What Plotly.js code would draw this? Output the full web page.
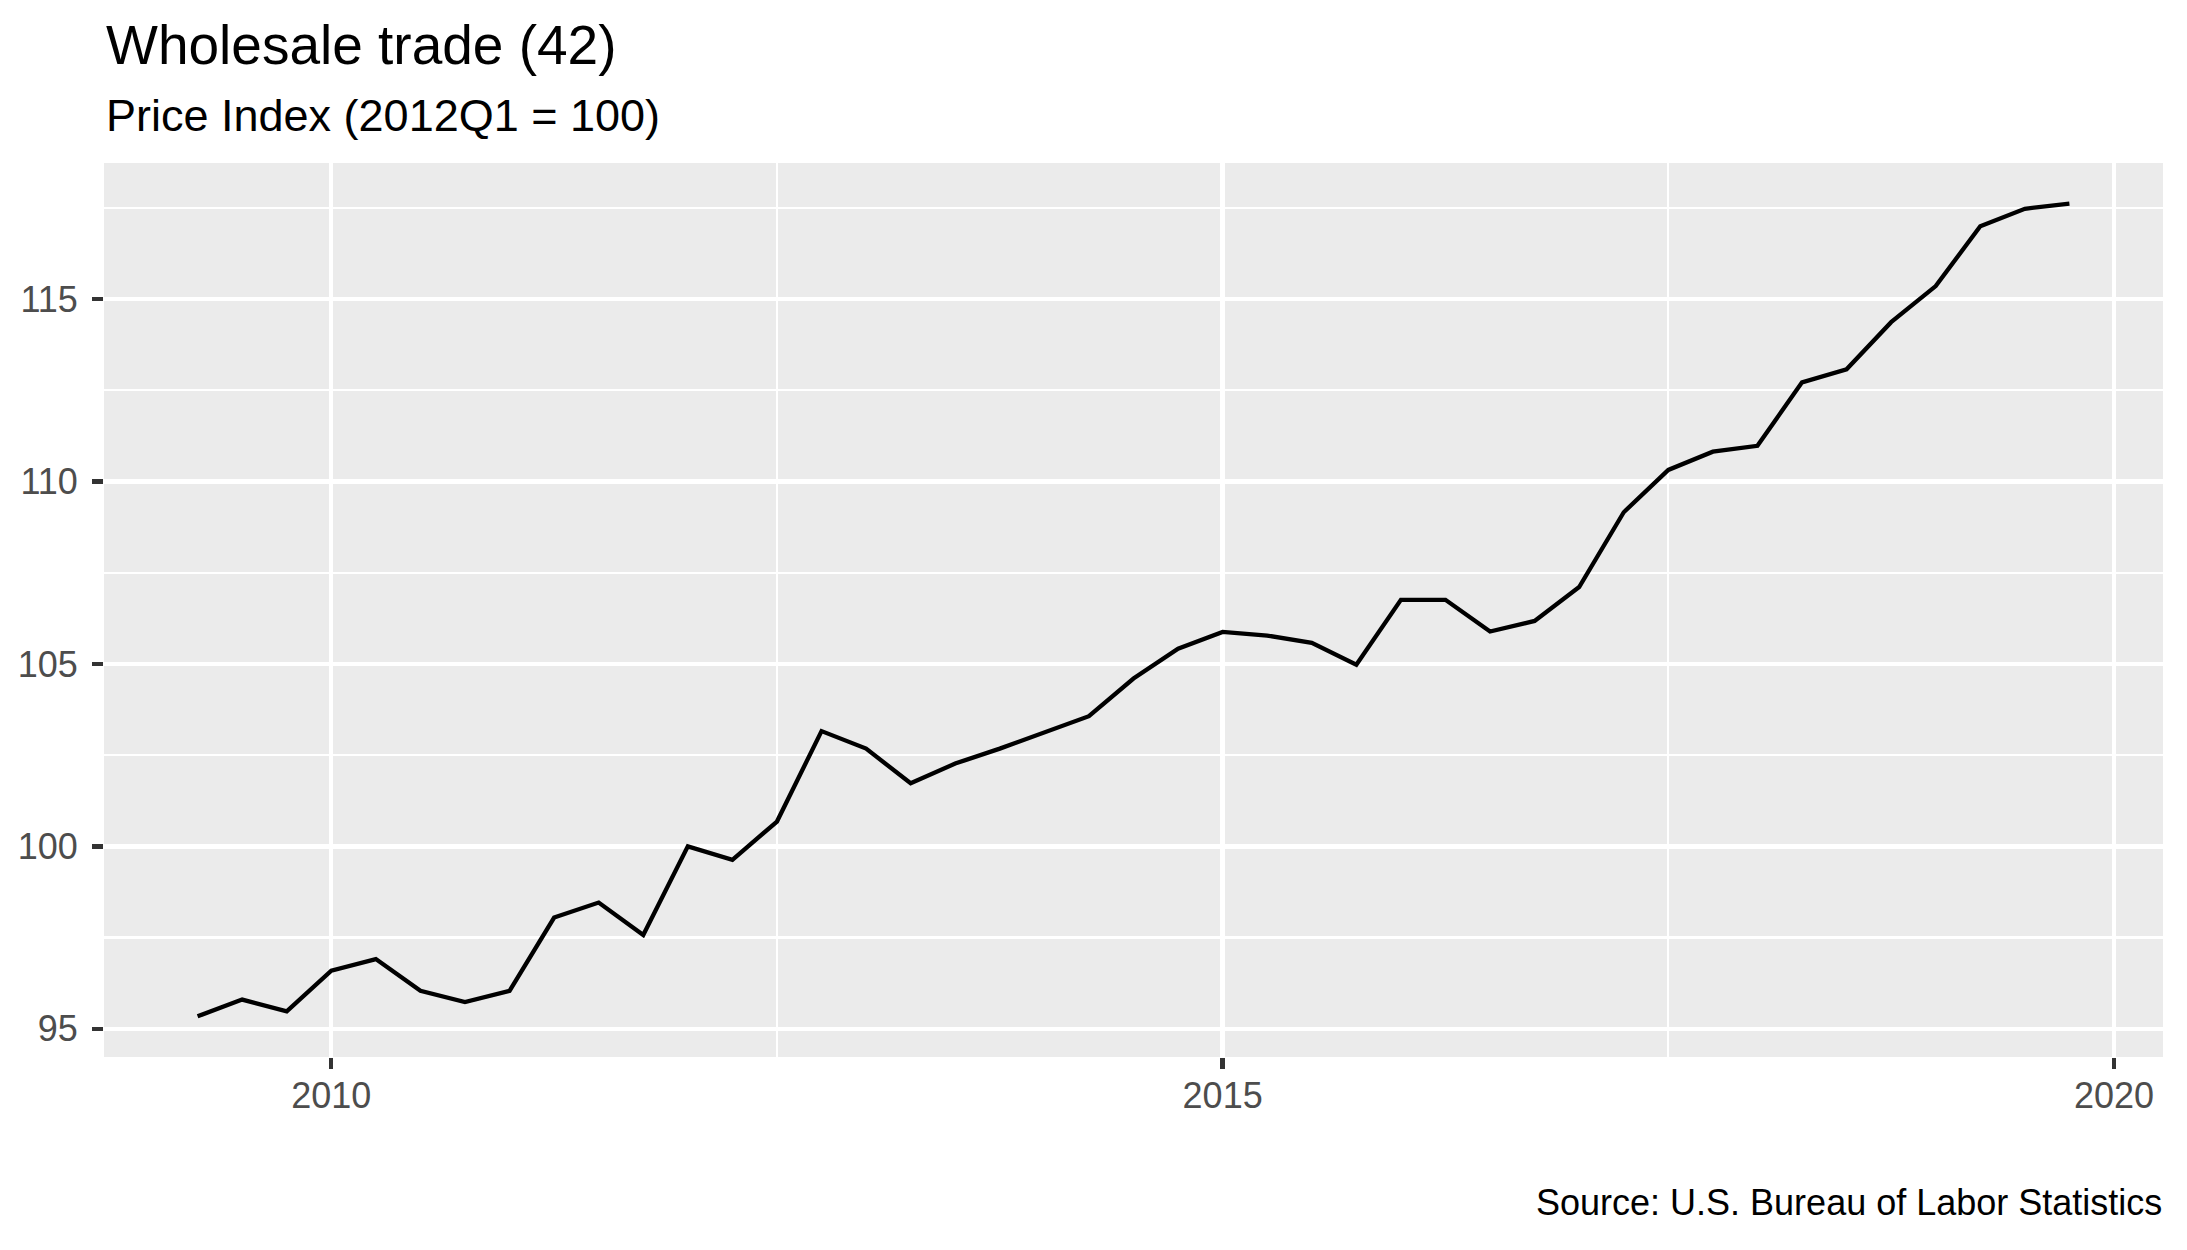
<!DOCTYPE html>
<html>
<head>
<meta charset="utf-8">
<script src="https://cdn.plot.ly/plotly-3.0.1.min.js"></script>
<style>
  html, body { margin: 0; padding: 0; background: #ffffff; }
  #chart { width: 2187px; height: 1250px; }
</style>
</head>
<body>
<div id="chart"></div>
<script>
// Quarterly observations (decimal year) and price index values
const quarters = [
  2009.25, 2009.5, 2009.75,
  2010.0, 2010.25, 2010.5, 2010.75,
  2011.0, 2011.25, 2011.5, 2011.75,
  2012.0, 2012.25, 2012.5, 2012.75,
  2013.0, 2013.25, 2013.5, 2013.75,
  2014.0, 2014.25, 2014.5, 2014.75,
  2015.0, 2015.25, 2015.5, 2015.75,
  2016.0, 2016.25, 2016.5, 2016.75,
  2017.0, 2017.25, 2017.5, 2017.75,
  2018.0, 2018.25, 2018.5, 2018.75,
  2019.0, 2019.25, 2019.5, 2019.75
];
const priceIndex = [
  95.34, 95.80, 95.48,
  96.59, 96.91, 96.04, 95.73,
  96.04, 98.05, 98.46, 97.57,
  100.00, 99.63, 100.68, 103.16,
  102.68, 101.73, 102.27, 102.68,
  103.12, 103.57, 104.60, 105.42,
  105.88, 105.78, 105.58, 104.98,
  106.76, 106.76, 105.89, 106.18,
  107.11, 109.16, 110.32, 110.82,
  110.98, 112.72, 113.08, 114.37,
  115.36, 117.00, 117.48, 117.62
];

const xTickVals = [2010, 2015, 2020];
const xTickText = ["2010", "2015", "2020"];
const xMinorVals = [2012.5, 2017.5];
const yTickVals = [95, 100, 105, 110, 115];
const yTickText = ["95", "100", "105", "110", "115"];
const yMinorVals = [97.5, 102.5, 107.5, 112.5, 117.5];

const titleText = "Wholesale trade (42)";
const subtitleText = "Price Index (2012Q1 = 100)";
const captionText = "Source: U.S. Bureau of Labor Statistics";

const FONT = '"Liberation Sans", Arial, Helvetica, sans-serif';

// ggplot-like expansion of 5% on each side
function expand(vals) {
  const lo = Math.min(...vals), hi = Math.max(...vals);
  const pad = (hi - lo) * 0.05;
  return [lo - pad, hi + pad];
}

const trace = {
  type: 'scatter',
  mode: 'lines',
  x: quarters,
  y: priceIndex,
  line: { color: '#000000', width: 4.3 },
  hoverinfo: 'skip'
};

const axisCommon = {
  showline: false,
  zeroline: false,
  ticks: 'outside',
  ticklen: 11,
  tickwidth: 4.3,
  tickcolor: '#333333',
  showgrid: true,
  gridcolor: '#FFFFFF',
  gridwidth: 4.3,
  tickfont: { family: FONT, size: 36, color: '#4D4D4D' },
  fixedrange: true
};

const layout = {
  width: 2187,
  height: 1250,
  paper_bgcolor: '#FFFFFF',
  plot_bgcolor: '#EBEBEB',
  margin: { l: 104, r: 24, t: 163, b: 193, pad: 0 },
  showlegend: false,
  hovermode: false,
  xaxis: Object.assign({}, axisCommon, {
    range: expand(quarters),
    tickmode: 'array',
    tickvals: xTickVals,
    ticktext: xTickText,
    ticklabelstandoff: -4,
    minor: { tickmode: 'array', tickvals: xMinorVals, showgrid: true, gridcolor: '#FFFFFF', gridwidth: 2.15, ticks: '' }
  }),
  yaxis: Object.assign({}, axisCommon, {
    range: expand(priceIndex),
    tickmode: 'array',
    tickvals: yTickVals,
    ticktext: yTickText,
    ticklabelstandoff: 7,
    minor: { tickmode: 'array', tickvals: yMinorVals, showgrid: true, gridcolor: '#FFFFFF', gridwidth: 2.15, ticks: '' }
  }),
  annotations: [
    {
      text: titleText, xref: 'paper', yref: 'paper',
      x: 0, y: 1.1325, xanchor: 'left', yanchor: 'middle',
      showarrow: false, font: { family: FONT, size: 55, color: '#000000' }
    },
    {
      text: subtitleText, xref: 'paper', yref: 'paper',
      x: 0, y: 1.0529, xanchor: 'left', yanchor: 'middle',
      showarrow: false, font: { family: FONT, size: 45, color: '#000000' }
    },
    {
      text: captionText, xref: 'paper', yref: 'paper',
      x: 1.0005, y: -0.1633, xanchor: 'right', yanchor: 'middle',
      showarrow: false, font: { family: FONT, size: 36, color: '#000000' }
    }
  ]
};

Plotly.newPlot('chart', [trace], layout, { displayModeBar: false, staticPlot: true });
</script>
</body>
</html>
